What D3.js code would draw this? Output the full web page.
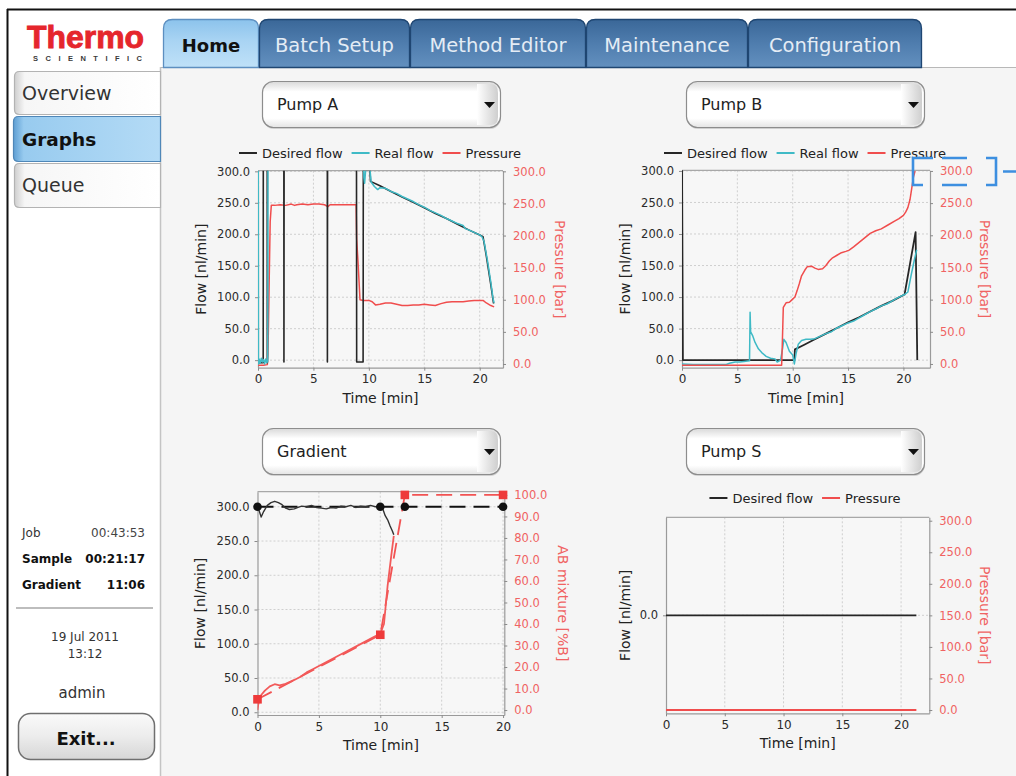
<!DOCTYPE html>
<html><head><meta charset="utf-8">
<script src="https://cdn.jsdelivr.net/npm/d3@7"></script>
<style>
html,body{margin:0;padding:0;background:#fff;}
svg{display:block;font-family:"DejaVu Sans",sans-serif;}
</style></head><body>
<svg id="c" width="1016" height="776"></svg>
<script>
// ---------------- DATA ----------------
const timeTicks = [0, 5, 10, 15, 20];
const flowTicks = [0, 50, 100, 150, 200, 250, 300];
const pressureTicks = [0, 50, 100, 150, 200, 250, 300];
const mixTicks = [0, 10, 20, 30, 40, 50, 60, 70, 80, 90, 100];
const pumpSFlowTicks = [0];

const tabLabels = ["Home", "Batch Setup", "Method Editor", "Maintenance", "Configuration"];
const navLabels = ["Overview", "Graphs", "Queue"];
const dropdownLabels = ["Pump A", "Pump B", "Gradient", "Pump S"];
const legendPump = ["Desired flow", "Real flow", "Pressure"];
const legendPumpS = ["Desired flow", "Pressure"];
const statusRows = [["Job", "00:43:53"], ["Sample", "00:21:17"], ["Gradient", "11:06"]];
const dateText = ["19 Jul 2011", "13:12"];
const userText = "admin";

// Pump A  [time min, value]  (values above 300 run off the top of the plot)
const pumpADesired = [[0,-4],[0.47,-4],[0.48,400],[0.83,400],[0.84,-4],[0.85,400],[2.33,400],[2.34,-3],[2.36,400],
  [6.25,400],[6.26,-3],[6.28,400],[8.88,400],[8.9,-3],[9.48,-3],[9.5,302],[10.1,302],[10.15,284],[11,277],[12,268],
  [13,259],[14,251],[15,242],[16,233],[17,225],[18,216],[19,207],[20,199],[20.3,196],[20.6,165],[21,120],[21.25,90]];
const pumpAReal = [[0,400],[0.02,400],[0.04,-6],[0.1,2],[0.2,-5],[0.3,3],[0.4,-3],[0.5,1],[0.6,-6],[0.7,2],[0.8,-4],
  [0.88,-2],[0.9,400],[9.45,400],[9.55,290],[9.62,281],[9.7,300],[9.8,400],[10.0,400],[10.12,300],[10.2,283],[10.5,276],
  [10.8,271],[11.0,274],[11.5,273],[12,268],[12.5,265],[13,260],[13.5,256],[14,252],[14.5,247],[15,243],[15.5,238],
  [16,234],[16.5,230],[17,225],[17.5,221],[18,217],[18.5,214],[18.7,209],[19,207],[19.5,203],[20,199],[20.2,196],
  [20.4,188],[20.7,158],[21,124],[21.2,98],[21.3,91]];
const pumpAPressure = [[0,-2],[0.5,-2],[0.84,-1],[0.9,15],[1.0,120],[1.1,222],[1.2,247],[1.5,247],[2,248],[2.5,247],
  [3,249],[3.3,247],[3.5,248],[4,249],[4.5,248],[5,249],[5.5,249],[6,248],[6.3,245],[6.5,248],[7,248],[7.5,248],
  [8,248],[8.5,248],[8.85,248],[8.9,195],[9.05,150],[9.2,100],[9.5,99],[10,99],[10.3,97],[10.6,92],[11,93],[11.5,95],
  [12,95],[12.5,93],[13,91],[13.5,91],[14,92],[14.5,92],[15,93],[15.5,92],[16,91],[16.5,94],[17,96],[17.5,97],
  [18,97],[18.5,97],[19,98],[19.5,99],[20,99],[20.3,99],[20.6,95],[21,91],[21.3,89]];

// Pump B
const pumpBDesired = [[0,320],[0.08,0],[10.15,0],[10.2,17],[11,24],[12,33],[13,42],[14,51],[15,60],[16,68],[17,77],
  [18,86],[19,94],[20.1,104],[21.1,203],[21.25,0]];
const pumpBReal = [[0,-6],[1,-7],[2,-7],[3,-7],[4,-7],[4.3,-5],[4.8,-3],[5.2,-3],[5.6,-2],[6.1,-1],[6.15,76],[6.2,45],
  [6.4,38],[6.6,28],[6.9,18],[7.2,12],[7.6,6],[8,3],[8.4,2],[8.6,-3],[8.9,0],[9.1,20],[9.2,33],[9.4,28],[9.7,14],
  [10,8],[10.15,-6],[10.3,10],[10.5,25],[10.8,31],[11.2,33],[11.6,33],[12,34],[12.5,38],[13,42],[13.5,45],[14,51],
  [14.5,55],[15,59],[15.5,62],[16,67],[16.5,72],[17,77],[17.5,81],[18,86],[18.5,89],[19,94],[19.5,99],[20.1,104],
  [20.4,108],[20.7,135],[21,160],[21.2,175]];
const pumpBPressure = [[0,-2],[9.0,-2],[9.05,25],[9.15,88],[9.4,95],[9.7,96],[9.95,100],[10.2,104],[10.4,114],
  [10.6,125],[10.8,137],[11.1,146],[11.3,151],[11.7,152],[12.0,149],[12.3,147],[12.7,148],[13.0,153],[13.3,160],
  [13.6,165],[14.0,169],[14.4,173],[14.8,175],[15.1,177],[15.5,182],[16.0,189],[16.5,196],[17.0,203],[17.5,207],
  [18.0,210],[18.6,216],[19.2,222],[19.6,226],[20.0,231],[20.2,236],[20.4,243],[20.6,256],[20.75,273],[20.9,290],[21.05,300]];

// Gradient
const gradFlowActual = [[0,300],[0.1,296],[0.3,285],[0.5,293],[0.8,302],[1.1,306],[1.4,308],[1.7,306],[2.0,303],
  [2.3,298],[2.6,296],[3.0,297],[3.3,299],[3.6,301],[4.0,300],[4.4,302],[4.8,299],[5.2,298],[5.6,297],[6.0,299],
  [6.4,298],[6.8,301],[7.2,300],[7.6,302],[8.0,299],[8.4,301],[8.8,300],[9.2,302],[9.6,300],[10.0,301],[10.2,297],
  [10.4,287],[10.6,281],[10.8,272],[11.0,264],[11.1,259]];
const gradFlowPlanned = [[0,300],[10,300],[12,300],[20,300]];
const gradMixActual = [[0,0],[0.1,4],[0.3,7],[0.6,9],[1.0,11],[1.4,12],[1.8,11.5],[2.2,12],[2.6,13],[3.0,14],
  [3.5,15.5],[4.0,17.5],[4.5,19],[5.0,20.5],[5.5,22],[6.0,23.5],[6.5,25],[7.0,26.5],[7.5,28],[8.0,29.5],[8.5,31],
  [9.0,32.5],[9.5,34],[10.0,35.5],[10.3,40],[10.6,58],[10.9,72],[11.1,81]];
const gradMixPlanned = [[0,5],[10,35],[12,100],[20,100]];

// Pump S
const pumpSDesired = [[0,0],[21.3,0]];
const pumpSPressure = [[0,0],[21.3,0]];

// ---------------- STYLE ----------------
const C_DES = "#262626", C_REAL = "#3fbac6", C_PRES = "#f04d4d", C_RTXT = "#f06262";
const svg = d3.select("#c");
const defs = svg.append("defs");

function grad(id, stops, horiz) {
  const g = defs.append("linearGradient").attr("id", id)
    .attr("x1", 0).attr("y1", 0).attr("x2", horiz ? 1 : 0).attr("y2", horiz ? 0 : 1);
  stops.forEach(s => g.append("stop").attr("offset", s[0]).attr("stop-color", s[1]));
}
grad("tabDark", [[0, "#3a6798"], [0.5, "#4f7dae"], [1, "#6390bf"]]);
grad("tabHome", [[0, "#8cc3ec"], [0.45, "#a9d4f3"], [1, "#bfe1f8"]]);
grad("navW", [[0, "#cfcfcf"], [0.07, "#f6f6f6"], [1, "#ffffff"]], true);
grad("navB", [[0, "#5f9fd3"], [0.07, "#98cbef"], [1, "#b4dbf6"]], true);
grad("drop", [[0, "#d9d9d9"], [0.22, "#ffffff"], [0.8, "#ffffff"], [1, "#e4e4e4"]]);
grad("dropR", [[0, "#ffffff"], [1, "#c9c9c9"]], true);
grad("exitG", [[0, "#fafafa"], [0.5, "#ececec"], [1, "#d6d6d6"]]);

// ---------------- FRAME / CHROME ----------------
svg.append("rect").attr("width", 1016).attr("height", 776).attr("fill", "#fff");
svg.append("rect").attr("x", 161).attr("y", 67).attr("width", 855).attr("height", 709).attr("fill", "#f5f5f5");
svg.append("line").attr("x1", 160.5).attr("x2", 160.5).attr("y1", 67).attr("y2", 776).attr("stroke", "#c4c4c4").attr("stroke-width", 1.5);
svg.append("line").attr("x1", 161).attr("x2", 1016).attr("y1", 67.5).attr("y2", 67.5).attr("stroke", "#b8b8b8");
svg.append("line").attr("x1", 7).attr("x2", 1016).attr("y1", 9.5).attr("y2", 9.5).attr("stroke", "#111").attr("stroke-width", 2);
svg.append("line").attr("x1", 7.5).attr("x2", 7.5).attr("y1", 9).attr("y2", 776).attr("stroke", "#111").attr("stroke-width", 2);

// logo
svg.append("text").attr("x", 27).attr("y", 47.5).attr("font-family", "Liberation Sans, Arial, sans-serif")
  .attr("font-weight", "bold").attr("font-size", 31).attr("fill", "#e5262c").attr("stroke", "#e5262c").attr("stroke-width", 0.9)
  .attr("textLength", 117).attr("lengthAdjust", "spacingAndGlyphs").text("Thermo");
svg.append("text").attr("x", 33).attr("y", 61).attr("font-family", "Liberation Sans, Arial, sans-serif")
  .attr("font-weight", "bold").attr("font-size", 7.5).attr("fill", "#3a3a3a")
  .attr("textLength", 109).attr("lengthAdjust", "spacing").text("SCIENTIFIC");

// tabs
const tabX = [163, 259, 410, 586, 748], tabW = [95, 150, 175, 161, 173];
function topRound(x, y, w, h, r) {
  return `M${x},${y + h}V${y + r}Q${x},${y} ${x + r},${y}H${x + w - r}Q${x + w},${y} ${x + w},${y + r}V${y + h}`;
}
tabLabels.forEach((t, i) => {
  const home = i === 0;
  svg.append("path").attr("d", topRound(tabX[i] + 0.5, 19.5, tabW[i], 48, 9) + "Z")
    .attr("fill", home ? "url(#tabHome)" : "url(#tabDark)")
    .attr("stroke", home ? "#5d8fc0" : "#1f4672").attr("stroke-width", 1.3);
  svg.append("text").attr("x", tabX[i] + tabW[i] / 2 + 0.5).attr("y", 52).attr("text-anchor", "middle")
    .attr("font-size", home ? 18 : 19.5).attr("font-weight", home ? "bold" : "normal")
    .attr("fill", home ? "#111" : "#e4ecf5").text(t);
});

// side nav
const navY = [71, 116, 163], navH = [43, 45, 44];
function leftRound(x, y, w, h, r) {
  return `M${x + w},${y}H${x + r}Q${x},${y} ${x},${y + r}V${y + h - r}Q${x},${y + h} ${x + r},${y + h}H${x + w}`;
}
navLabels.forEach((t, i) => {
  const sel = i === 1;
  svg.append("path").attr("d", leftRound(sel ? 13.5 : 14.5, navY[i] + 0.5, sel ? 147 : 146, navH[i], 5) + "Z")
    .attr("fill", sel ? "url(#navB)" : "url(#navW)").attr("stroke", sel ? "#4f87b8" : "#b3b3b3").attr("stroke-width", 1.2);
  svg.append("text").attr("x", 22).attr("y", navY[i] + navH[i] / 2 + 7).attr("font-size", sel ? 18.5 : 19)
    .attr("font-weight", sel ? "bold" : "normal").attr("fill", sel ? "#111" : "#333").text(t);
});

// status block
statusRows.forEach((r, i) => {
  const y = 537 + i * 26, b = i > 0;
  svg.append("text").attr("x", 22).attr("y", y).attr("font-size", 12).attr("font-weight", b ? "bold" : "normal")
    .attr("fill", b ? "#111" : "#333").text(r[0]);
  svg.append("text").attr("x", 145).attr("y", y).attr("text-anchor", "end").attr("font-size", 12)
    .attr("font-weight", b ? "bold" : "normal").attr("fill", b ? "#111" : "#444").text(r[1]);
});
svg.append("line").attr("x1", 16).attr("x2", 153).attr("y1", 608).attr("y2", 608).attr("stroke", "#bdbdbd").attr("stroke-width", 2);
dateText.forEach((t, i) => svg.append("text").attr("x", 85).attr("y", 641 + i * 17).attr("text-anchor", "middle")
  .attr("font-size", 12).attr("fill", "#333").text(t));
svg.append("text").attr("x", 82).attr("y", 698).attr("text-anchor", "middle").attr("font-size", 15).attr("fill", "#333").text(userText);
svg.append("rect").attr("x", 18.5).attr("y", 713.5).attr("width", 136).attr("height", 46).attr("rx", 12)
  .attr("fill", "url(#exitG)").attr("stroke", "#6f6f6f").attr("stroke-width", 1.5);
svg.append("text").attr("x", 86).attr("y", 745).attr("text-anchor", "middle").attr("font-size", 18)
  .attr("font-weight", "bold").attr("fill", "#111").text("Exit...");

// dropdowns
const dropPos = [[262, 81], [686, 81], [262, 428], [686, 428]];
dropdownLabels.forEach((t, i) => {
  const [x, y] = dropPos[i], w = 238, h = 46;
  const g = svg.append("g");
  g.append("rect").attr("x", x + 1).attr("y", y + 2).attr("width", w).attr("height", h).attr("rx", 11).attr("fill", "#cfcfcf");
  g.append("rect").attr("x", x + 0.5).attr("y", y + 0.5).attr("width", w).attr("height", h).attr("rx", 11)
    .attr("fill", "url(#drop)").attr("stroke", "#8d8d8d").attr("stroke-width", 1.2);
  g.append("path").attr("d", `M${x + w - 23},${y + 3}H${x + w - 9}Q${x + w - 2},${y + 3} ${x + w - 2},${y + 12}V${y + h - 10}Q${x + w - 2},${y + h - 2} ${x + w - 9},${y + h - 2}H${x + w - 23}Z`)
    .attr("fill", "url(#dropR)").attr("opacity", 0.9);
  g.append("path").attr("d", `M${x + w - 16},${y + 21}h11l-5.5,6z`).attr("fill", "#111");
  g.append("text").attr("x", x + 15).attr("y", y + 29).attr("font-size", 16).attr("fill", "#222").text(t);
});

// ---------------- CHARTS ----------------
function chart(c) {
  const g = svg.append("g");
  const x = d3.scaleLinear().domain(c.xDomain).range([c.left, c.right]);
  const yL = d3.scaleLinear().domain(c.yLDomain).range([c.bottom, c.top]);
  const yR = d3.scaleLinear().domain(c.yRDomain).range([c.bottom, c.top]);
  const W = c.right - c.left, H = c.bottom - c.top;
  defs.append("clipPath").attr("id", "clip" + c.id).append("rect")
    .attr("x", c.left).attr("y", c.top).attr("width", W).attr("height", H);
  g.append("rect").attr("x", c.left).attr("y", c.top).attr("width", W).attr("height", H).attr("fill", "#f7f7f7");
  g.append("g").selectAll("line").data(timeTicks.filter(d => d > 0)).join("line")
    .attr("x1", d => x(d)).attr("x2", d => x(d)).attr("y1", c.top).attr("y2", c.bottom)
    .attr("stroke", "#cfcfcf").attr("stroke-dasharray", "2,2");
  g.append("g").selectAll("line").data(c.yLTicks).join("line")
    .attr("x1", c.left).attr("x2", c.right).attr("y1", d => yL(d)).attr("y2", d => yL(d))
    .attr("stroke", "#cfcfcf").attr("stroke-dasharray", "2,2");
  const style = (sel, col) => {
    sel.selectAll(".domain").attr("stroke", "#9a9a9a").attr("stroke-width", 1.2);
    sel.selectAll(".tick line").attr("stroke", "#8a8a8a");
    sel.selectAll("text").attr("font-family", "DejaVu Sans, sans-serif").attr("font-size", 11.5).attr("fill", col);
  };
  g.append("line").attr("x1", c.left).attr("x2", c.right).attr("y1", c.top).attr("y2", c.top).attr("stroke", "#a8a8a8").attr("stroke-width", 1.2);
  g.append("g").attr("transform", `translate(0,${c.bottom})`)
    .call(d3.axisBottom(x).tickValues(timeTicks).tickFormat(d3.format("d")).tickSize(3).tickSizeOuter(0).tickPadding(4))
    .call(s => style(s, "#2a2a2a")).call(s => s.selectAll("text").attr("font-size", 12));
  g.append("g").attr("transform", `translate(${c.left},0)`)
    .call(d3.axisLeft(yL).tickValues(c.yLTicks).tickFormat(d3.format(".1f")).tickSize(3).tickSizeOuter(0).tickPadding(5))
    .call(s => style(s, "#2a2a2a"));
  g.append("g").attr("transform", `translate(${c.right},0)`)
    .call(d3.axisRight(yR).tickValues(c.yRTicks).tickFormat(d3.format(".1f")).tickSize(3).tickSizeOuter(0).tickPadding(7))
    .call(s => style(s, C_RTXT));
  const midY = (c.top + c.bottom) / 2;
  g.append("text").attr("transform", `translate(${c.left + c.flowLabelDx},${midY}) rotate(-90)`).attr("dy", "0.35em")
    .attr("text-anchor", "middle").attr("font-size", 14).attr("fill", "#222").text("Flow [nl/min]");
  g.append("text").attr("transform", `translate(${c.right + c.rightLabelDx},${midY}) rotate(90)`).attr("dy", "0.35em")
    .attr("text-anchor", "middle").attr("font-size", 14).attr("fill", C_RTXT).text(c.rightLabel);
  g.append("text").attr("x", (c.left + c.right) / 2).attr("y", c.bottom + 35).attr("text-anchor", "middle")
    .attr("font-size", 14).attr("fill", "#222").text("Time [min]");
  const plot = g.append("g").attr("clip-path", `url(#clip${c.id})`);
  c.series.forEach(s => {
    const ys = s.axis === "R" ? yR : yL;
    plot.append("path").datum(s.data)
      .attr("d", d3.line().x(d => x(d[0])).y(d => ys(d[1])))
      .attr("fill", "none").attr("stroke", s.color).attr("stroke-width", s.width || 1.5)
      .attr("stroke-linejoin", "round").attr("stroke-dasharray", s.dash || null);
  });
  c.series.forEach(s => {
    const ys = s.axis === "R" ? yR : yL;
    if (s.marker === "circle") {
      g.append("g").selectAll("circle").data(s.data).join("circle")
        .attr("cx", d => x(d[0])).attr("cy", d => ys(d[1])).attr("r", 4.3).attr("fill", "#111");
    } else if (s.marker === "square") {
      g.append("g").selectAll("rect").data(s.data).join("rect")
        .attr("x", d => x(d[0]) - 4.3).attr("y", d => ys(d[1]) - 4.3).attr("width", 8.6).attr("height", 8.6).attr("fill", "#ee3a3a");
    }
  });
  if (c.legend) {
    const lg = g.append("g");
    let cx = 0;
    c.legend.forEach(it => {
      lg.append("line").attr("x1", cx).attr("x2", cx + 18).attr("y1", 0).attr("y2", 0).attr("stroke", it.color).attr("stroke-width", 2);
      const t = lg.append("text").attr("x", cx + 23).attr("y", 0).attr("dy", "0.35em").attr("font-size", 13).attr("fill", "#222").text(it.label);
      cx += 23 + t.node().getComputedTextLength() + 9;
    });
    cx -= 9;
    lg.attr("transform", `translate(${c.legendCx - cx / 2},${c.legendY})`);
  }
  return {x, yL, yR};
}

chart({id: "A", left: 258, right: 503, top: 170.7, bottom: 367.7, xDomain: [0, 22.1],
  yLDomain: [-12, 301], yRDomain: [-5.8, 301], yLTicks: flowTicks, yRTicks: pressureTicks,
  flowLabelDx: -57, rightLabelDx: 57, rightLabel: "Pressure [bar]",
  legend: [{label: legendPump[0], color: C_DES}, {label: legendPump[1], color: C_REAL}, {label: legendPump[2], color: C_PRES}],
  legendCx: 380, legendY: 153,
  series: [{data: pumpAPressure, axis: "R", color: C_PRES},
           {data: pumpADesired, axis: "L", color: C_DES, width: 1.6},
           {data: pumpAReal, axis: "L", color: C_REAL}]});

const chB = chart({id: "B", left: 682, right: 930, top: 170.3, bottom: 367.7, xDomain: [0, 22.4],
  yLDomain: [-12, 301], yRDomain: [-5.8, 301], yLTicks: flowTicks, yRTicks: pressureTicks,
  flowLabelDx: -57, rightLabelDx: 55, rightLabel: "Pressure [bar]",
  legend: [{label: legendPump[0], color: C_DES}, {label: legendPump[1], color: C_REAL}, {label: legendPump[2], color: C_PRES}],
  legendCx: 805, legendY: 153,
  series: [{data: pumpBDesired, axis: "L", color: C_DES, width: 1.8},
           {data: pumpBReal, axis: "L", color: C_REAL},
           {data: pumpBPressure, axis: "R", color: C_PRES}]});

chart({id: "C", left: 257.5, right: 504.3, top: 491.7, bottom: 715, xDomain: [0, 20.1],
  yLDomain: [-4, 322], yRDomain: [-2.3, 101.5], yLTicks: flowTicks, yRTicks: mixTicks,
  flowLabelDx: -57, rightLabelDx: 59, rightLabel: "AB mixture [%B]",
  series: [{data: gradMixPlanned, axis: "R", color: "#f25353", width: 1.8, dash: "16,8", marker: "square"},
           {data: gradMixActual, axis: "R", color: "#f25a5a", width: 1.8},
           {data: gradFlowPlanned, axis: "L", color: "#111", width: 1.8, dash: "16,8", marker: "circle"},
           {data: gradFlowActual, axis: "L", color: "#333", width: 1.4}]});

chart({id: "D", left: 666, right: 929.3, top: 517.3, bottom: 713.3, xDomain: [0, 22.4],
  yLDomain: [-1, 1], yRDomain: [-5.2, 305.4], yLTicks: pumpSFlowTicks, yRTicks: pressureTicks,
  flowLabelDx: -41, rightLabelDx: 56, rightLabel: "Pressure [bar]",
  legend: [{label: legendPumpS[0], color: C_DES}, {label: legendPumpS[1], color: C_PRES}],
  legendCx: 805, legendY: 498,
  series: [{data: pumpSPressure, axis: "R", color: C_PRES, width: 2},
           {data: pumpSDesired, axis: "L", color: C_DES, width: 1.8}]});

// highlight annotation around Pump B 300.0 pressure label
{
  const ax = chB.yR(300) + 0.5, bx = 930;
  const L = bx - 17, R = bx + 66, T = ax - 13.5, B = ax + 13.5;
  const p = `M${L + 20},${T}H${L}V${B}H${L + 10}M${L + 29},${T}H${L + 54}M${L + 29},${B}H${L + 54}` +
            `M${R - 10},${T}H${R}V${B}H${R - 10}M${R + 7},${ax}H1016`;
  svg.append("path").attr("d", p).attr("fill", "none").attr("stroke", "#3d8fe0").attr("stroke-width", 2.6);
}
</script>
</body></html>
